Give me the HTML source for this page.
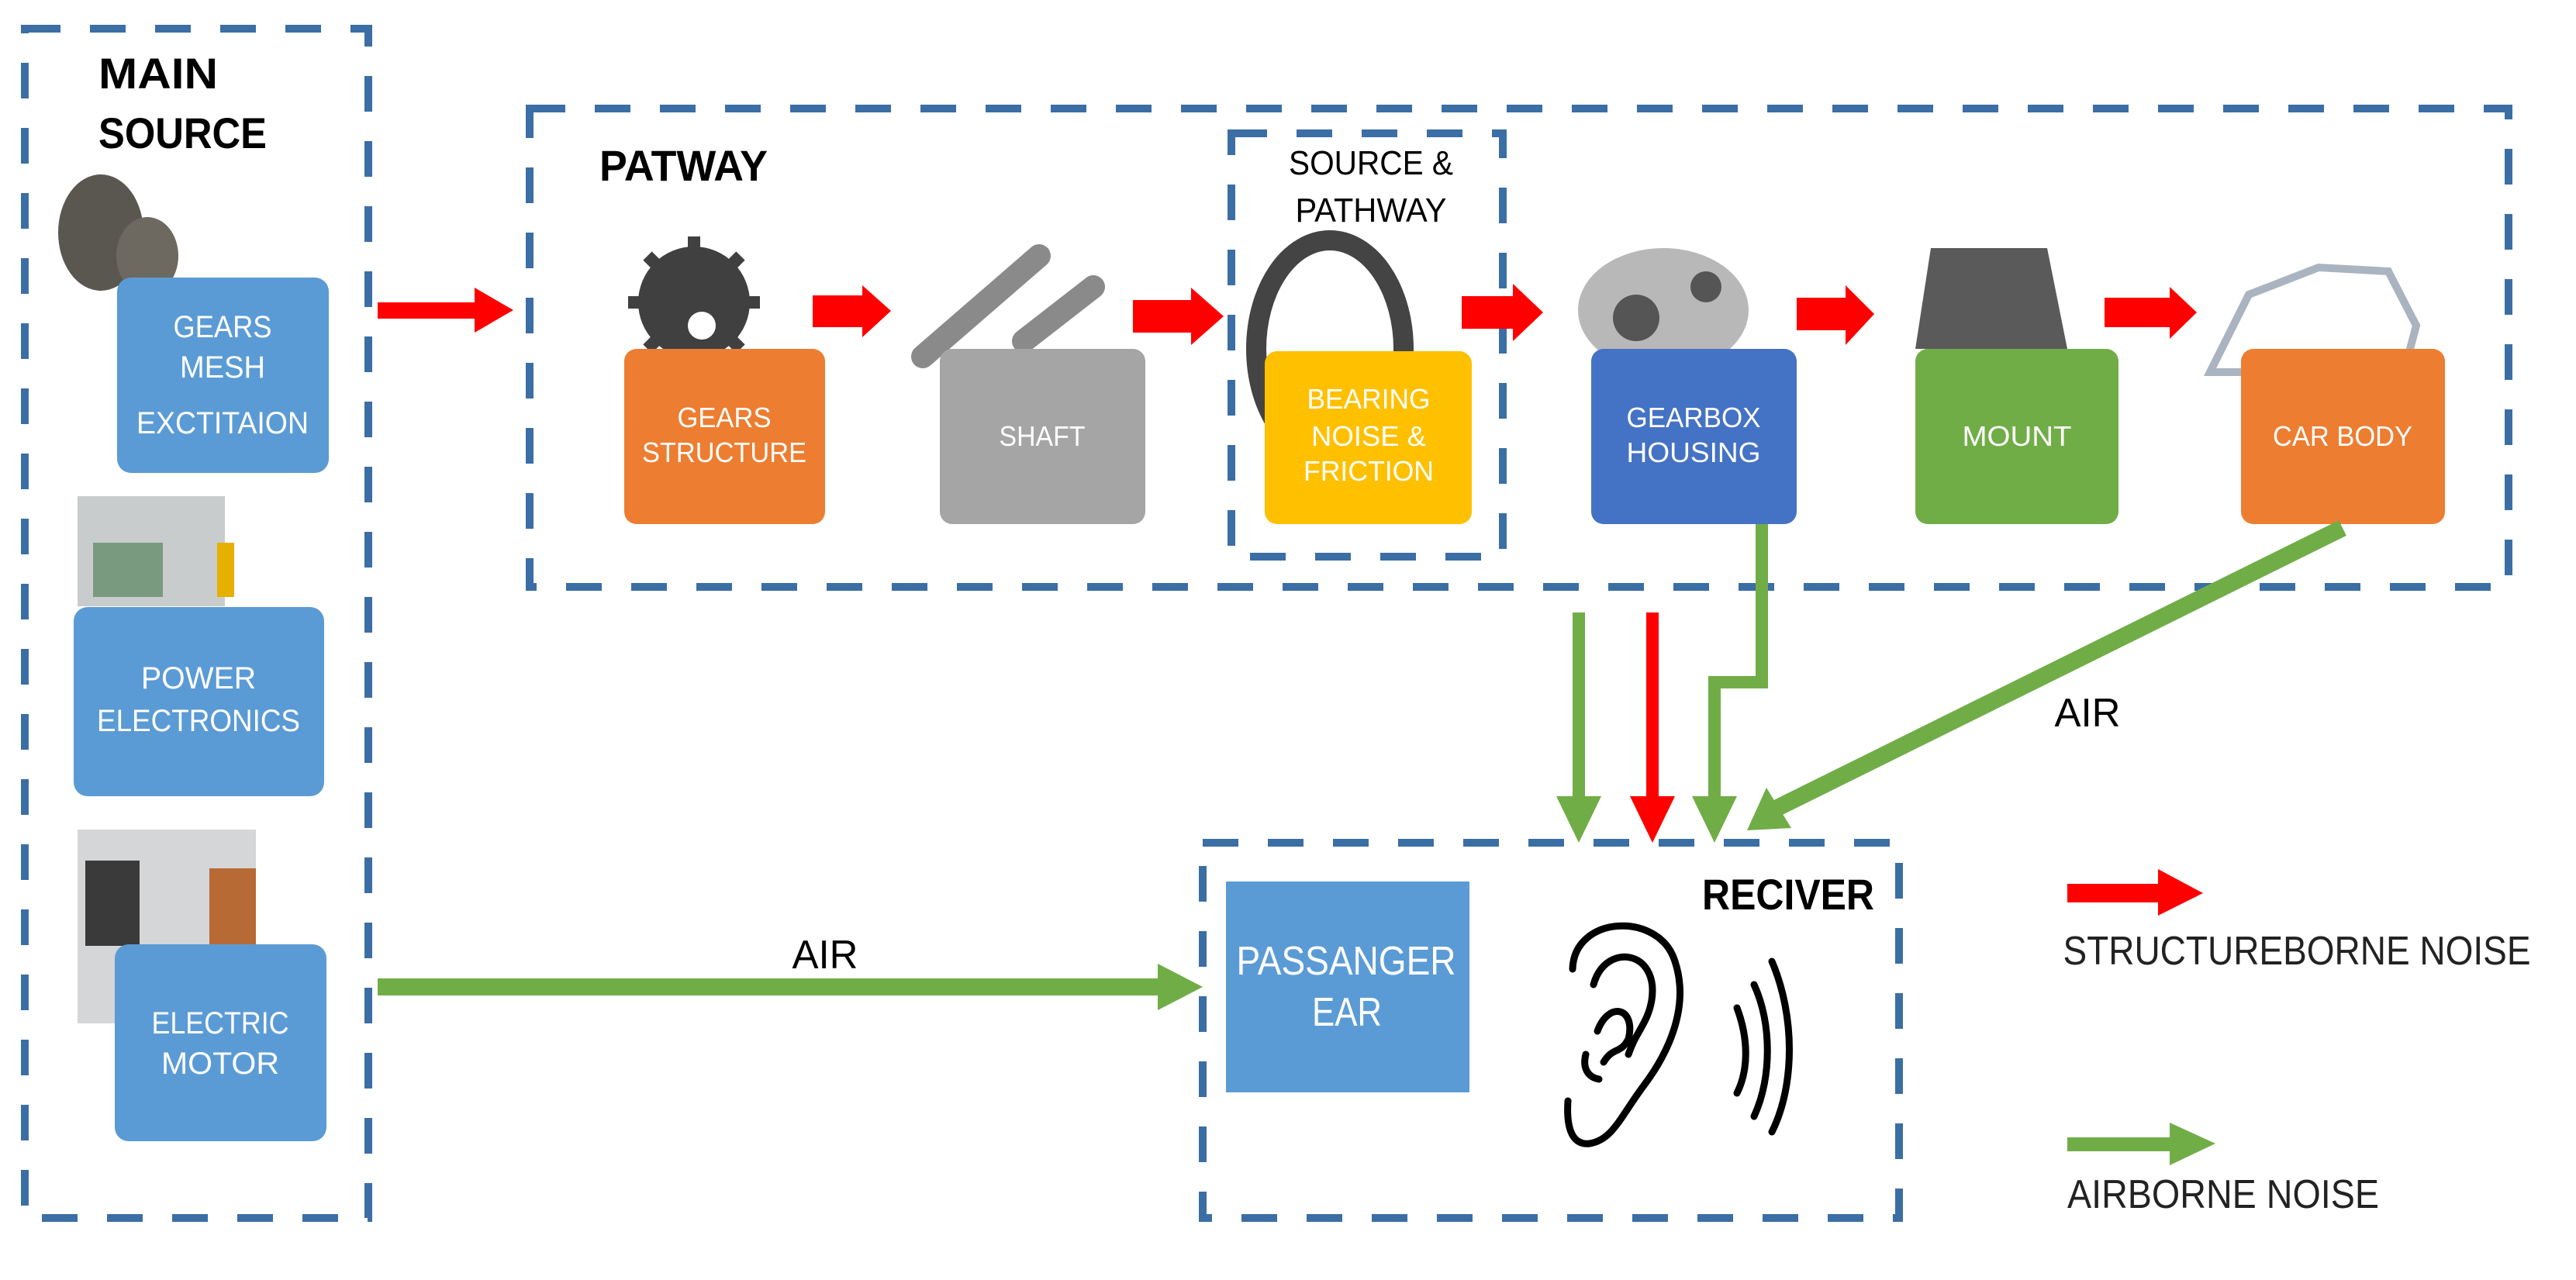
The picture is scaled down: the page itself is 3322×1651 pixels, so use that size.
<!DOCTYPE html>
<html><head><meta charset="utf-8"><style>html,body{margin:0;padding:0;background:#fff}svg{display:block}</style></head>
<body>
<svg width="3322" height="1651" viewBox="0 0 3322 1651" xmlns="http://www.w3.org/2000/svg" font-family="'Liberation Sans', sans-serif">
<rect width="3322" height="1651" fill="#fff"/>
<g fill="none" stroke="#3b6ea5" stroke-width="10" stroke-dasharray="46 38">
  <rect x="32" y="37" width="443" height="1534"/>
  <rect x="683" y="140" width="2552" height="617"/>
  <rect x="1588" y="172" width="350" height="546"/>
  <rect x="1551" y="1087" width="898" height="484"/>
</g>

<!-- images approximations -->
<g>
  <!-- gears mesh image -->
  <ellipse cx="130" cy="300" rx="55" ry="75" fill="#5a5650"/>
  <ellipse cx="190" cy="330" rx="40" ry="50" fill="#6d6860"/>
  <!-- power electronics -->
  <rect x="100" y="640" width="190" height="142" fill="#c9cccd"/>
  <rect x="120" y="700" width="90" height="70" fill="#7a9a80"/>
  <rect x="280" y="700" width="22" height="70" fill="#e6b000"/>
  <!-- electric motor -->
  <rect x="100" y="1070" width="230" height="250" fill="#d4d6d8"/>
  <rect x="110" y="1110" width="70" height="110" fill="#3a3a3a"/>
  <rect x="270" y="1120" width="60" height="100" fill="#b86a35"/>
  <!-- gear icon -->
  <circle cx="895" cy="390" r="72" fill="#404040"/>
  <g stroke="#404040" stroke-width="16">
    <line x1="895" y1="305" x2="895" y2="475"/><line x1="810" y1="390" x2="980" y2="390"/>
    <line x1="835" y1="330" x2="955" y2="450"/><line x1="955" y1="330" x2="835" y2="450"/>
  </g>
  <circle cx="905" cy="420" r="18" fill="#fff"/>
  <!-- shaft -->
  <g stroke="#8a8a8a" stroke-width="30" stroke-linecap="round">
    <line x1="1190" y1="460" x2="1340" y2="330"/><line x1="1320" y1="440" x2="1410" y2="370"/>
  </g>
  <!-- bearing -->
  <ellipse cx="1715" cy="450" rx="95" ry="140" fill="none" stroke="#444" stroke-width="26"/>
  <!-- gearbox -->
  <ellipse cx="2145" cy="400" rx="110" ry="80" fill="#b8b8b8"/>
  <circle cx="2110" cy="410" r="30" fill="#555"/><circle cx="2200" cy="370" r="20" fill="#555"/>
  <!-- mount -->
  <path d="M2490 320 L2640 320 L2666 450 L2470 450 Z" fill="#5a5a5a"/>
  <!-- car -->
  <path d="M2850 480 L2900 380 L2990 345 L3080 350 L3116 420 L3100 480 Z" fill="none" stroke="#a9b4c0" stroke-width="10"/>
</g>

<!-- boxes -->
<g>
  <rect x="151" y="358" width="273" height="252" rx="18" fill="#5b9bd5"/>
  <rect x="95" y="783" width="323" height="244" rx="18" fill="#5b9bd5"/>
  <rect x="148" y="1218" width="273" height="254" rx="18" fill="#5b9bd5"/>
  <rect x="805" y="450" width="259" height="226" rx="16" fill="#ed7d31"/>
  <rect x="1212" y="450" width="265" height="226" rx="16" fill="#a5a5a5"/>
  <rect x="1631" y="453" width="267" height="223" rx="16" fill="#ffc000"/>
  <rect x="2052" y="450" width="265" height="226" rx="16" fill="#4472c4"/>
  <rect x="2470" y="450" width="262" height="226" rx="16" fill="#70ad47"/>
  <rect x="2890" y="450" width="263" height="226" rx="16" fill="#ed7d31"/>
  <rect x="1581" y="1137" width="314" height="272" fill="#5b9bd5"/>
</g>

<!-- red arrows -->
<g fill="#ff0000">
  <path d="M487 390 H612 V371 L662 400 L612 429 V411 H487 Z"/>
  <path d="M1048 381 H1112 V368 L1149 401 L1112 435 V422 H1048 Z"/>
  <path d="M1461 387 H1536 V371 L1578 408 L1536 445 V429 H1461 Z"/>
  <path d="M1885 382 H1951 V366 L1990 403 L1951 440 V424 H1885 Z"/>
  <path d="M2317 384 H2380 V368 L2417 405 L2380 445 V426 H2317 Z"/>
  <path d="M2714 384 H2798 V370 L2833 403 L2798 437 V422 H2714 Z"/>
  <path d="M2666 1140 H2783 V1121 L2841 1152 L2783 1181 V1164 H2666 Z"/>
  <path d="M2123 790 H2139 V1027 H2160 L2131 1087 L2102 1027 H2123 Z"/>
</g>
<!-- green -->
<g fill="#70ad47">
  <path d="M487 1262 H1493 V1243 L1551 1273 L1493 1303 V1284 H487 Z"/>
  <path d="M2666 1467 H2798 V1448 L2857 1475 L2798 1503 V1485 H2666 Z"/>
  <path d="M2028 790 H2044 V1027 H2065 L2036 1087 L2007 1027 H2028 Z"/>
  <path d="M2264 676 H2280 V888 H2219 V1027 H2240 L2211 1087 L2182 1027 H2203 V872 H2264 Z"/>
</g>
<line x1="3021" y1="681" x2="2290" y2="1043" stroke="#70ad47" stroke-width="22"/>
<path d="M2253 1071 L2278 1016 L2310 1068 Z" fill="#70ad47"/>

<!-- ear -->
<g fill="none" stroke="#000" stroke-width="9" stroke-linecap="round">
  <path d="M2028 1250 C2030 1180 2140 1175 2160 1240 C2180 1300 2150 1360 2120 1400 C2090 1440 2080 1470 2050 1475 C2025 1478 2020 1450 2022 1420"/>
  <path d="M2055 1270 C2070 1215 2140 1225 2130 1290 C2125 1320 2110 1330 2100 1360"/>
  <path d="M2060 1330 C2075 1290 2110 1300 2100 1340 C2090 1360 2080 1350 2068 1370"/>
  <path d="M2045 1360 C2040 1380 2050 1390 2062 1392"/>
  <path d="M2240 1300 C2255 1340 2255 1380 2240 1410"/>
  <path d="M2262 1270 C2285 1320 2285 1390 2262 1440"/>
  <path d="M2285 1240 C2315 1310 2315 1400 2285 1460"/>
</g>

<!-- black text -->
<g fill="#000" font-weight="bold" font-size="56" lengthAdjust="spacingAndGlyphs">
  <text x="127" y="114" textLength="154" lengthAdjust="spacingAndGlyphs">MAIN</text>
  <text x="127" y="191" textLength="217" lengthAdjust="spacingAndGlyphs">SOURCE</text>
  <text x="773" y="233" textLength="217" lengthAdjust="spacingAndGlyphs">PATWAY</text>
  <text x="2195" y="1173" textLength="222" lengthAdjust="spacingAndGlyphs">RECIVER</text>
</g>
<g fill="#000" font-size="50" text-anchor="middle">
  <text x="1768" y="225" font-size="44" textLength="212" lengthAdjust="spacingAndGlyphs">SOURCE &amp;</text>
  <text x="1768" y="286" font-size="44" textLength="195" lengthAdjust="spacingAndGlyphs">PATHWAY</text>
  <text x="1064" y="1249" font-size="52" textLength="85" lengthAdjust="spacingAndGlyphs">AIR</text>
  <text x="2692" y="937" font-size="52" textLength="85" lengthAdjust="spacingAndGlyphs">AIR</text>
  <text x="2962" y="1244" font-size="52" fill="#222" textLength="603" lengthAdjust="spacingAndGlyphs">STRUCTUREBORNE NOISE</text>
  <text x="2867" y="1558" font-size="52" fill="#222" textLength="402" lengthAdjust="spacingAndGlyphs">AIRBORNE NOISE</text>
</g>
<!-- white text -->
<g fill="#fff" font-size="40" text-anchor="middle">
  <text x="287" y="435" textLength="127" lengthAdjust="spacingAndGlyphs">GEARS</text>
  <text x="287" y="487" textLength="110" lengthAdjust="spacingAndGlyphs">MESH</text>
  <text x="287" y="559" textLength="222" lengthAdjust="spacingAndGlyphs">EXCTITAION</text>
  <text x="256" y="888" textLength="148" lengthAdjust="spacingAndGlyphs">POWER</text>
  <text x="256" y="943" textLength="262" lengthAdjust="spacingAndGlyphs">ELECTRONICS</text>
  <text x="284" y="1333" textLength="177" lengthAdjust="spacingAndGlyphs">ELECTRIC</text>
  <text x="284" y="1385" textLength="152" lengthAdjust="spacingAndGlyphs">MOTOR</text>
  <text x="934" y="551" font-size="36" textLength="121" lengthAdjust="spacingAndGlyphs">GEARS</text>
  <text x="934" y="596" font-size="36" textLength="212" lengthAdjust="spacingAndGlyphs">STRUCTURE</text>
  <text x="1344" y="575" font-size="36" textLength="111" lengthAdjust="spacingAndGlyphs">SHAFT</text>
  <text x="1765" y="527" font-size="36" textLength="159" lengthAdjust="spacingAndGlyphs">BEARING</text>
  <text x="1765" y="575" font-size="36" textLength="148" lengthAdjust="spacingAndGlyphs">NOISE &amp;</text>
  <text x="1765" y="620" font-size="36" textLength="168" lengthAdjust="spacingAndGlyphs">FRICTION</text>
  <text x="2184" y="551" font-size="36" textLength="173" lengthAdjust="spacingAndGlyphs">GEARBOX</text>
  <text x="2184" y="596" font-size="36" textLength="173" lengthAdjust="spacingAndGlyphs">HOUSING</text>
  <text x="2601" y="575" font-size="36" textLength="141" lengthAdjust="spacingAndGlyphs">MOUNT</text>
  <text x="3021" y="575" font-size="36" textLength="180" lengthAdjust="spacingAndGlyphs">CAR BODY</text>
  <text x="1736" y="1257" font-size="52" textLength="283" lengthAdjust="spacingAndGlyphs">PASSANGER</text>
  <text x="1737" y="1323" font-size="52" textLength="90" lengthAdjust="spacingAndGlyphs">EAR</text>
</g>
</svg>
</body></html>
